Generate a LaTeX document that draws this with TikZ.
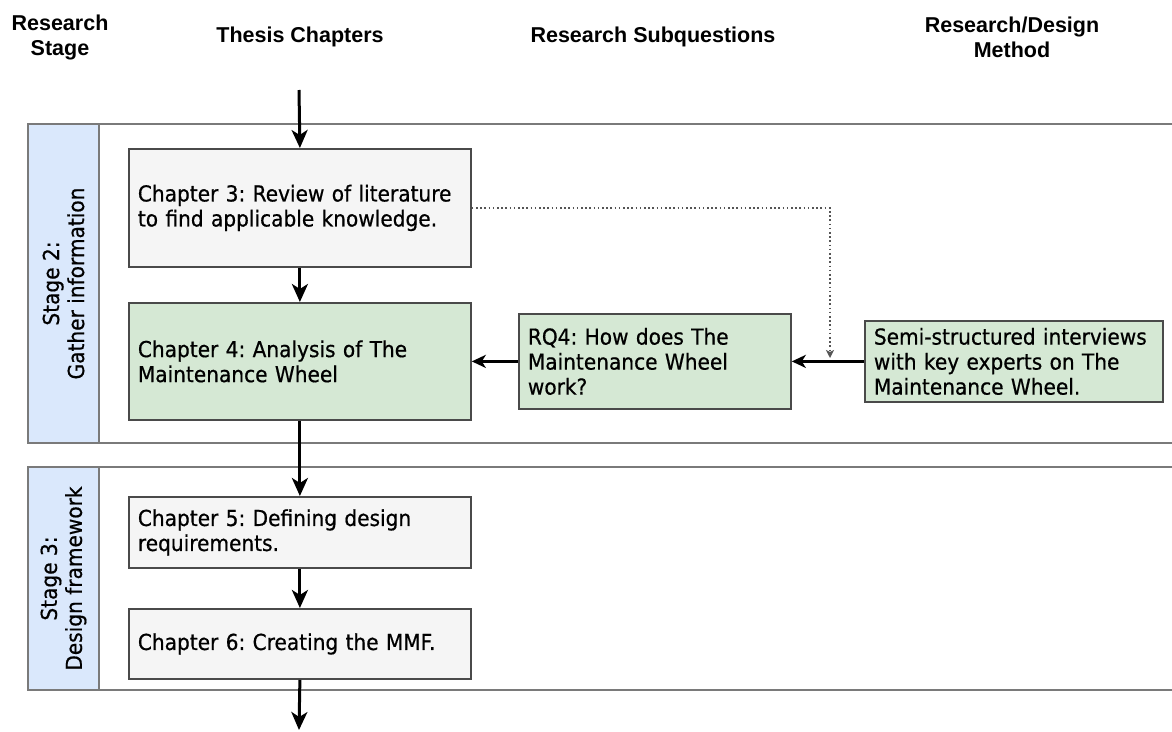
\documentclass[tikz,border=0pt]{standalone}
\usepackage{fontspec}
\usetikzlibrary{arrows.meta}
\newfontfamily\headfont{Liberation Sans}
\newfontfamily\bodyfont{DejaVu Sans}[FakeStretch=0.915,FakeBold=0.6]

\definecolor{boxgray}{HTML}{F5F5F5}
\definecolor{boxgreen}{HTML}{D5E8D4}
\definecolor{stageblue}{HTML}{DAE8FC}
\definecolor{edgegray}{HTML}{4A4A4A}
\definecolor{framegray}{HTML}{7A7A7A}
\definecolor{framefill}{HTML}{FFFFFF}
\definecolor{dotgray}{HTML}{555555}

\begin{document}
\frenchspacing
\begin{tikzpicture}[x=1pt,y=-1pt,
  header/.style={font=\headfont\bfseries\fontsize{21.5}{25}\selectfont, align=center, inner sep=0pt},
  body/.style={font=\bodyfont\fontsize{22}{25}\selectfont},
  chapbox/.style={body, draw=edgegray, line width=1.8pt, fill=boxgray, anchor=north west,
    inner xsep=9pt, inner ysep=0pt, align=left, minimum width=342pt, text width=324pt},
  greenbox/.style={chapbox, fill=boxgreen},
  frame/.style={draw=framegray, line width=1.8pt, fill=framefill},
  strip/.style={draw=framegray, line width=1.8pt, fill=stageblue},
  stagelabel/.style={body, rotate=90, align=center, inner sep=0pt},
  flow/.style={draw=black, line width=3pt, -{Stealth[length=18pt,width=16pt,inset=5pt]}},
  sideflow/.style={draw=black, line width=2.4pt, -{Stealth[length=14pt,width=13pt,inset=4pt]}},
  feed/.style={draw=dotgray, line width=1.6pt, dash pattern=on 1.6pt off 2.6pt,
    -{Stealth[length=8pt,width=8pt,inset=2pt]}}
]
\useasboundingbox (0,0) rectangle (1172,731);
\clip (0,0) rectangle (1172,731);

% column headings
\node[header] (hstage) at (60,37) {Research\\Stage};
\node[header] (hchap) at (300,37) {Thesis Chapters};
\node[header] (hrq) at (653,37) {Research Subquestions};
\node[header] (hmeth) at (1012,37) {Research/Design\\Method};

% stage 2 container
\draw[frame] (28,124) rectangle (1185,443);
\draw[strip] (28,124) rectangle (99,443);
\node[stagelabel] (s2) at (63.5,283.5) {Stage 2:\\Gather information};

% stage 3 container
\draw[frame] (28,467) rectangle (1185,690);
\draw[strip] (28,467) rectangle (99,690);
\node[stagelabel] (s3) at (63.5,578.5) {Stage 3:\\Design framework};

% chapters
\node[chapbox, minimum height=118pt] (ch3) at (128,148)
  {Chapter 3: Review of literature\\to find applicable knowledge.};
\node[greenbox, minimum height=117pt] (ch4) at (128,302)
  {Chapter 4: Analysis of The\\Maintenance Wheel};
\node[chapbox, minimum height=71pt] (ch5) at (128,496)
  {Chapter 5: Defining design\\requirements.};
\node[chapbox, minimum height=70pt] (ch6) at (128,608)
  {Chapter 6: Creating the MMF.};

% subquestion and method
\node[greenbox, minimum width=272pt, text width=254pt, minimum height=95pt] (rq4) at (518,313)
  {RQ4: How does The\\Maintenance Wheel\\work?};
\node[greenbox, minimum width=298pt, text width=280pt, minimum height=81pt] (semi) at (864,320)
  {Semi-structured interviews\\with key experts on The\\Maintenance Wheel.};

% flow of the chapters
\coordinate (start) at (299,90);
\coordinate (finish) at (299,730);
\draw[flow] (start) -- (ch3.north);
\draw[flow] (ch3.south) -- (ch4.north);
\draw[flow] (ch4.south) -- (ch5.north);
\draw[flow] (ch5.south) -- (ch6.north);
\draw[flow] (ch6.south) -- (finish);

% method feeds the subquestion, which feeds chapter 4
\draw[sideflow] (semi.west) -- (rq4.east);
\draw[sideflow] (rq4.west) -- (ch4.east);

% literature also informs the interviews
\coordinate (join) at (830,358);
\draw[feed] (ch3.east) -| (join);
\end{tikzpicture}
\end{document}
